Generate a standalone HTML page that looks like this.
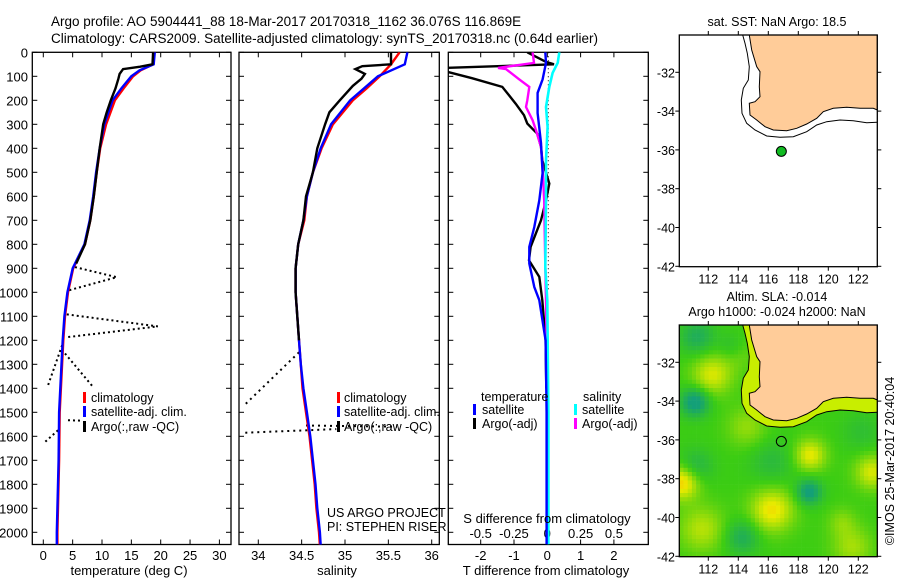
<!DOCTYPE html>
<html><head><meta charset="utf-8">
<style>
html,body{margin:0;padding:0;background:#fff;}
svg{display:block;font-family:"Liberation Sans",sans-serif;}
</style></head>
<body>
<svg id="fig" width="900" height="580" viewBox="0 0 900 580" xmlns="http://www.w3.org/2000/svg">
<text x="51" y="26" font-size="13.5">Argo profile: AO 5904441_88 18-Mar-2017 20170318_1162 36.076S 116.869E</text>
<text x="51" y="43" font-size="13.5">Climatology: CARS2009. Satellite-adjusted climatology: synTS_20170318.nc (0.64d earlier)</text>
<g id="gP1"></g>
<g id="gP2"></g>
<g id="gP3"></g>
<g id="gM1"></g>
<g id="gM2"></g>
<text x="129" y="575" font-size="13" text-anchor="middle">temperature (deg C)</text>
<text x="337" y="575" font-size="13" text-anchor="middle">salinity</text>
<text x="546" y="575" font-size="13" text-anchor="middle">T difference from climatology</text>
<text x="547" y="523" font-size="13" text-anchor="middle">S difference from climatology</text>
<text x="327" y="517" font-size="12.5">US ARGO PROJECT</text>
<text x="327" y="531" font-size="12.5">PI: STEPHEN RISER</text>
<text x="777" y="26" font-size="12.5" text-anchor="middle">sat. SST: NaN Argo: 18.5</text>
<text x="777" y="301" font-size="12.5" text-anchor="middle">Altim. SLA: -0.014</text>
<text x="777" y="316" font-size="12.5" text-anchor="middle">Argo h1000: -0.024 h2000: NaN</text>
<text transform="translate(894,461) rotate(-90)" font-size="12.5" text-anchor="middle">©IMOS 25-Mar-2017 20:40:04</text>
</svg>
<script>
// ---- data ----
const depthTicks = [0,100,200,300,400,500,600,700,800,900,1000,1100,1200,1300,1400,1500,1600,1700,1800,1900,2000];
const tempTicks = [0,5,10,15,20,25,30];
const salTicks = [34,34.5,35,35.5,36];
const salTickLabels = ["34","34.5","35","35.5","36"];
const tdiffTicks = [-2,-1,0,1,2];
const sdiffTicks = [-0.5,-0.25,0,0.25,0.5];
const sdiffTickLabels = ["-0.5","-0.25","0","0.25","0.5"];
const lonTicks = [112,114,116,118,120,122];
const latTicks = [-32,-34,-36,-38,-40,-42];

const climD = [0,50,75,100,150,200,300,400,500,600,700,800,900,1000,1100,1200,1300,1500,1700,2000,2055];
const climT = [18.9,18.7,16.6,15.3,13.7,12.2,10.7,9.7,9.1,8.6,8.0,7.1,5.1,4.2,3.7,3.4,3.2,2.8,2.7,2.4,2.4];
const satT  = [19.0,18.8,16.4,15.0,13.3,11.8,10.4,9.6,9.0,8.5,7.9,7.0,5.0,4.1,3.6,3.3,3.1,2.7,2.6,2.3,2.3];
const argoTD = [0,50,60,70,90,110,150,200,250,300,400,500,600,700,800,880];
const argoT  = [18.7,18.6,16.5,13.6,13.0,12.8,12.3,11.5,10.8,10.2,9.6,9.1,8.6,8.0,7.1,5.6];
const argoDeepTD = [895,937,992,null,1092,1142,1187,null,1221,1388,null,1255,1395,null,1533,1535,null,1575,1630];
const argoDeepT  = [5.4,12.5,4.3,null,4.0,19.5,4.0,null,3.2,0.8,null,3.7,8.5,null,4.2,6.6,null,2.5,0.0];

const salD = [0,50,100,150,200,300,400,500,600,700,800,900,1000,1100,1200,1300,1400,1500,1600,1700,1800,1900,2000,2055];
const climS = [35.63,35.53,35.40,35.25,35.09,34.86,34.73,34.63,34.56,34.53,34.46,34.43,34.43,34.45,34.47,34.49,34.51,34.55,34.59,34.62,34.65,34.67,34.70,34.71];
const satS  = [35.72,35.69,35.38,35.22,35.06,34.84,34.72,34.63,34.56,34.52,34.46,34.43,34.43,34.45,34.47,34.49,34.52,34.56,34.60,34.63,34.66,34.68,34.71,34.72];
const argoSD = [0,50,58,70,90,110,140,200,250,300,400,500,600,700,800,900,1000,1100,1200];
const argoS  = [35.53,35.53,35.2,35.12,35.23,35.19,35.09,34.94,34.82,34.77,34.68,34.63,34.55,34.52,34.46,34.43,34.43,34.45,34.47];
const argoDeepSD = [1250,1470,null,1555,1560,null,1585,1570];
const argoDeepS  = [34.47,33.84,null,34.55,35.6,null,33.85,34.9];

const diffD = [0,40,50,65,78,108,144,179,214,262,297,339,394,450,547,617,700,811,867,936,1033,1200,1400];
const argoTdiff = [-0.6,-0.04,0.2,-3.1,-3.1,-2.26,-1.35,-1.15,-0.95,-0.7,-0.6,-0.3,-0.19,-0.15,0.06,-0.04,-0.19,-0.5,-0.55,-0.24,-0.15,-0.05,-0.03];
const satDiffD = [0,44,113,169,253,378,503,617,728,811,880,978,1033,1200,1500,2050];
const satTdiff = [-0.06,-0.04,-0.14,-0.29,-0.29,-0.19,-0.14,-0.24,-0.39,-0.54,-0.54,-0.39,-0.24,-0.05,-0.02,-0.02];
const argoSdiffD = [0,44,65,70,113,144,200,228,283,325,394,478,617,894,1033,1400];
const argoSdiff = [-0.11,-0.1,-0.37,-0.31,-0.21,-0.135,-0.15,-0.16,-0.11,-0.085,-0.047,-0.035,-0.023,-0.015,-0.01,0.0];
const satSdiffD = [0,44,86,144,228,311,450,617,894,1033,1500,2050];
const satSdiff = [0.09,0.078,0.04,0.015,-0.01,0.002,-0.01,-0.01,-0.015,0.0,0.008,0.008];

const floatLon = [116.869];
const floatLat = [-36.076];

// ---- helpers ----
const NS = "http://www.w3.org/2000/svg";
function mk(parent, tag, attrs){ const e=document.createElementNS(NS,tag); for(const k in attrs) e.setAttribute(k,attrs[k]); parent.appendChild(e); return e; }
const Y0=52.3, YS=0.24, PB=544.5;
const yD = d => Y0 + d*YS;
const xT = t => 43.3 + t*5.87;
const xS = s => 258.3 + (s-34)*86.7;
const xTd = v => 547.3 + v*33.3;
const xSd = v => 547.3 + v*133.3;

function linePath(xs, ds, fx){
  let p="", pen=false;
  for(let i=0;i<xs.length;i++){
    if(xs[i]===null||ds[i]===null){pen=false;continue;}
    const x=fx(xs[i]).toFixed(1), y=yD(ds[i]).toFixed(1);
    p += (pen?"L":"M")+x+","+y; pen=true;
  }
  return p;
}
function frame(g, x0, x1, name){
  const clipId = name+"-clip";
  const cp = mk(g,"clipPath",{id:clipId});
  mk(cp,"rect",{x:x0,y:Y0,width:x1-x0,height:PB-Y0});
  const r = mk(g,"rect",{x:x0,y:Y0,width:x1-x0,height:PB-Y0,fill:"none",stroke:"#000","stroke-width":1.3});
  
  
  depthTicks.forEach(d=>{
    const t1 = mk(g,"line",{x1:x0,x2:x0+5,y1:yD(d),y2:yD(d),stroke:"#000"});
    
    
    const t2 = mk(g,"line",{x1:x1-5,x2:x1,y1:yD(d),y2:yD(d),stroke:"#000"});
    
    
  });
  return "url(#"+clipId+")";
}
function series(g, clip, d, color, w, name, dash){
  const p = mk(g,"path",{d:d,fill:"none",stroke:color,"stroke-width":w,"clip-path":clip,"stroke-linejoin":"miter"});
  if(dash) p.setAttribute("stroke-dasharray",dash);
  
  
  return p;
}
function txt(g, x, y, s, size, anchor, name){
  const t = mk(g,"text",{x:x,y:y,"font-size":size,"text-anchor":anchor||"start"});
  t.textContent = s;
  
  
  return t;
}
function legendBar(g, x, yc, color){
  const r = mk(g,"rect",{x:x-1,y:yc-6,width:3,height:11,fill:color});
  
  
}

// ---- panel 1: temperature ----
const g1 = document.getElementById("gP1");
depthTicks.forEach(d=>{ txt(g1, 28, yD(d)+5, String(d), 13, "end", "depth-tick-label"); });
const c1 = frame(g1, 32.3, 231, "temperature-panel");
tempTicks.forEach(t=>{
  const a = mk(g1,"line",{x1:xT(t),x2:xT(t),y1:Y0,y2:Y0+5,stroke:"#000"});
  
  
  const b = mk(g1,"line",{x1:xT(t),x2:xT(t),y1:PB-5,y2:PB,stroke:"#000"});
  
  
  txt(g1, xT(t), 560, String(t), 13, "middle", "temperature-tick-label");
});
series(g1, c1, linePath(argoDeepT, argoDeepTD, xT), "#000", 2, "argo-temperature-qc-line", "2,3");
series(g1, c1, linePath(climT, climD, xT), "#f00", 2.4, "climatology-temperature-line");
series(g1, c1, linePath(satT, climD, xT), "#00f", 2.4, "satellite-temperature-line");
series(g1, c1, linePath(argoT, argoTD, xT), "#000", 2.4, "argo-temperature-line");
legendBar(g1, 84, 398, "#f00"); txt(g1, 91, 402, "climatology", 12.5, "start", "legend-climatology");
legendBar(g1, 84, 412, "#00f"); txt(g1, 91, 416, "satellite-adj. clim.", 12.5, "start", "legend-satellite");
legendBar(g1, 84, 427, "#000"); txt(g1, 91, 431, "Argo(:,raw -QC)", 12.5, "start", "legend-argo");

// ---- panel 2: salinity ----
const g2 = document.getElementById("gP2");
const c2 = frame(g2, 239, 439.3, "salinity-panel");
salTicks.forEach((s,i)=>{
  const a = mk(g2,"line",{x1:xS(s),x2:xS(s),y1:Y0,y2:Y0+5,stroke:"#000"});
  
  
  const b = mk(g2,"line",{x1:xS(s),x2:xS(s),y1:PB-5,y2:PB,stroke:"#000"});
  
  
  txt(g2, xS(s), 560, salTickLabels[i], 13, "middle", "salinity-tick-label");
});
series(g2, c2, linePath(argoDeepS, argoDeepSD, xS), "#000", 2, "argo-salinity-qc-line", "2,4");
series(g2, c2, linePath(climS, salD, xS), "#f00", 2.4, "climatology-salinity-line");
series(g2, c2, linePath(satS, salD, xS), "#00f", 2.4, "satellite-salinity-line");
series(g2, c2, linePath(argoS, argoSD, xS), "#000", 2.4, "argo-salinity-line");
legendBar(g2, 338, 398, "#f00"); txt(g2, 344, 402, "climatology", 12.5, "start", "legend-climatology");
legendBar(g2, 338, 412, "#00f"); txt(g2, 344, 416, "satellite-adj. clim.", 12.5, "start", "legend-satellite");
legendBar(g2, 338, 427, "#000"); txt(g2, 344, 431, "Argo(:,raw -QC)", 12.5, "start", "legend-argo");

// ---- panel 3: differences ----
const g3 = document.getElementById("gP3");
const c3 = frame(g3, 448.3, 648.3, "difference-panel");
tdiffTicks.forEach(v=>{
  const a = mk(g3,"line",{x1:xTd(v),x2:xTd(v),y1:Y0,y2:Y0+5,stroke:"#000"});
  
  
  const b = mk(g3,"line",{x1:xTd(v),x2:xTd(v),y1:PB-5,y2:PB,stroke:"#000"});
  
  
  txt(g3, xTd(v), 560, String(v), 13, "middle", "t-difference-tick-label");
});
sdiffTicks.forEach((v,i)=>{ txt(g3, xSd(v), 538, sdiffTickLabels[i], 13, "middle", "s-difference-tick-label"); });
const z = mk(g3,"line",{x1:xTd(0)+1,x2:xTd(0)+1,y1:Y0,y2:yD(1000),stroke:"#000","stroke-dasharray":"1,3"});


series(g3, c3, linePath(argoTdiff, diffD, xTd), "#000", 2.4, "argo-t-difference-line");
series(g3, c3, linePath(argoSdiff, argoSdiffD, xSd), "#f0f", 2.4, "argo-s-difference-line");
series(g3, c3, linePath(satSdiff, satSdiffD, xSd), "#0ff", 2.6, "satellite-s-difference-line");
series(g3, c3, linePath(satTdiff, satDiffD, xTd), "#00f", 2.4, "satellite-t-difference-line");
txt(g3, 481, 401, "temperature", 12.5, "start", "legend-temperature-header");
txt(g3, 583, 401, "salinity", 12.5, "start", "legend-salinity-header");
legendBar(g3, 474, 410, "#00f"); txt(g3, 482, 414, "satellite", 12.5, "start", "legend-t-satellite");
legendBar(g3, 474, 424, "#000"); txt(g3, 482, 428, "Argo(-adj)", 12.5, "start", "legend-t-argo");
legendBar(g3, 575, 410, "#0ff"); txt(g3, 582, 414, "satellite", 12.5, "start", "legend-s-satellite");
legendBar(g3, 575, 424, "#f0f"); txt(g3, 582, 428, "Argo(-adj)", 12.5, "start", "legend-s-argo");

// ---- maps ----
const MX0=679.3, MX1=877.3, MH=231.7;
const xLon = lon => 708.3 + (lon-112)*15;
const land = [[268,105],[275,150],[290,200],[300,215],[298,260],[300,290],[285,305],[268,310],[270,345],[290,360],[315,380],[340,390],[380,392],[410,385],[440,372],[470,355],[490,335],[520,325],[560,322],[600,325],[640,325],[652,330],[652,105]];
const contour = [[248,105],[255,130],[262,160],[268,200],[265,240],[250,265],[244,300],[246,340],[260,370],[285,390],[320,408],[360,412],[400,410],[440,395],[470,375],[500,365],[540,360],[580,362],[620,368],[652,367]];
function ptsStr(arr, oy){ return arr.map(p=>(660+p[0]/3).toFixed(1)+","+(oy+p[1]/3).toFixed(1)).join(" "); }

function drawMap(g, top, heat, name){
  const yLat = lat => top + 37.3 + (-32-lat)*19.4;
  const clipId = name+"-clip";
  const cp = mk(g,"clipPath",{id:clipId});
  mk(cp,"rect",{x:MX0,y:top,width:MX1-MX0,height:MH});
  const inner = mk(g,"g",{"clip-path":"url(#"+clipId+")"});
  if(heat){
    const blobs = [[710,373,0.9,14],[680,480,1.3,12],[770,508,1.1,15],[808,453,1.0,11],[870,470,0.9,12],[700,527,0.7,16],[745,425,0.5,14],[850,545,0.6,14],[735,350,0.4,12],[840,520,0.4,10],
                   [693,400,-1.2,10],[807,490,-1.1,9],[693,465,-0.6,12],[740,535,-0.7,12],[695,335,-0.7,12],[730,345,-0.5,10],[770,460,-0.4,16],[860,430,-0.3,14]];
    const cell=4.2;
    for(let y=top;y<top+MH;y+=cell){
      for(let x=MX0;x<MX1;x+=cell){
        let v=0;
        blobs.forEach(b=>{ const dx=x-b[0], dy=y-(b[1]-325+top); v+=b[2]*Math.exp(-(dx*dx+dy*dy)/(2*b[3]*b[3])); });
        let r,gg,bb;
        if(v<0){ const t=Math.min(1,-v); r=60*(1-t)+20*t; gg=205*(1-t)+160*t; bb=20*(1-t)+120*t; }
        else if(v<1){ const t=v; r=60*(1-t)+235*t; gg=205*(1-t)+235*t; bb=20*(1-t)+0*t; }
        else { const t=Math.min(1,v-1)/0.5; const tt=Math.min(1,t); r=235+20*tt; gg=235-60*tt; bb=0; }
        mk(inner,"rect",{x:x.toFixed(1),y:y.toFixed(1),width:cell+0.3,height:cell+0.3,fill:"rgb("+(r|0)+","+(gg|0)+","+(bb|0)+")"});
      }
    }
    const band = mk(inner,"polygon",{points:ptsStr(contour.concat([[660,367],[660,100],[248,100]]), top-35),fill:"#c8ee00"});
    
    
  }
  const ct = mk(inner,"polyline",{points:ptsStr(contour, top-35),fill:"none",stroke:"#000","stroke-width":1});
  
  
  const ld = mk(inner,"polygon",{points:ptsStr(land.concat([[660,330],[660,100]]), top-35),fill:"#ffcc99",stroke:"#000","stroke-width":1});
  
  
  const fr = mk(g,"rect",{x:MX0,y:top,width:MX1-MX0,height:MH,fill:"none",stroke:"#000","stroke-width":1.3});
  
  
  lonTicks.forEach(l=>{
    const a = mk(g,"line",{x1:xLon(l),x2:xLon(l),y1:top-4,y2:top,stroke:"#000"});
    
    
    const b = mk(g,"line",{x1:xLon(l),x2:xLon(l),y1:top+MH,y2:top+MH+4,stroke:"#000"});
    
    
    txt(g, xLon(l), top+MH+17, String(l), 12.5, "middle", "longitude-tick-label");
  });
  latTicks.forEach(l=>{
    const a = mk(g,"line",{x1:MX0-4,x2:MX0,y1:yLat(l),y2:yLat(l),stroke:"#000"});
    
    
    const b = mk(g,"line",{x1:MX1,x2:MX1+4,y1:yLat(l),y2:yLat(l),stroke:"#000"});
    
    
    txt(g, 675, yLat(l)+5, String(l), 12.5, "end", "latitude-tick-label");
  });
  const m = mk(g,"circle",{cx:xLon(floatLon[0]),cy:yLat(floatLat[0]),r:5,fill:heat?"none":"#11bb22",stroke:"#000","stroke-width":1});
  
  
}
drawMap(document.getElementById("gM1"), 35, false, "sst-map");
drawMap(document.getElementById("gM2"), 325, true, "sla-map");
</script>
</body></html>
